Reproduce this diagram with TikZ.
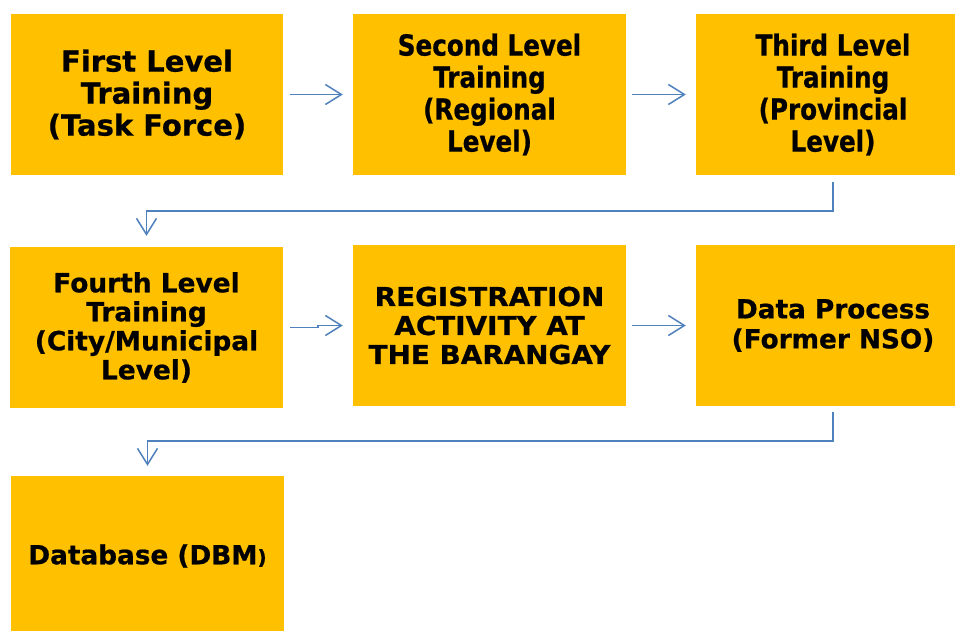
\documentclass[tikz,border=0pt]{standalone}
\usepackage{fontspec}
\setmainfont{DejaVu Sans}[FakeBold=0.7]
\newfontfamily\condfont{DejaVu Sans}[FakeStretch=0.85,FakeBold=0.7]
\newfontfamily\widefont{DejaVu Sans}[FakeStretch=1.07,FakeBold=0.7]
\usetikzlibrary{arrows.meta}
\definecolor{boxfill}{HTML}{FFC000}
\definecolor{arrowblue}{HTML}{4F81BD}
\tikzset{
  stepbox/.style={rectangle, fill=boxfill, draw=none, inner sep=0pt, align=center,
    text=black, minimum height=161pt, font=\bfseries\fontsize{29}{32}\selectfont},
  arr/.style={draw=arrowblue, line width=1.5pt, -{Straight Barb[length=16pt,width=20pt,line width=1.5pt]}},
}
\begin{document}
\begin{tikzpicture}[x=1pt,y=-1pt]
\clip (0,0) rectangle (955,630);
\fill[white] (0,0) rectangle (955,630);
% row 1
\node[stepbox, minimum width=272pt] (b1) at (147,94.5)
  {First Level\\Training\\(Task Force)};
\node[stepbox, minimum width=273pt, font=\condfont\bfseries\fontsize{29}{32}\selectfont] (b2) at (489.5,94.5)
  {Second Level\\Training\\(Regional\\Level)};
\node[stepbox, minimum width=274pt, font=\condfont\bfseries\fontsize{29}{32}\selectfont] (b3) at (833,94.5)
  {Third Level\\Training\\(Provincial\\Level)};
% row 2
\node[stepbox, minimum width=273pt, font=\bfseries\fontsize{26.4}{29}\selectfont] (b4) at (146.5,327.5)
  {Fourth Level\\Training\\(City/Municipal\\Level)};
\node[stepbox, minimum width=273pt, font=\widefont\bfseries\fontsize{26}{29}\selectfont] (b5) at (489.5,325.5)
  {REGISTRATION\\ACTIVITY AT\\THE BARANGAY};
\node[stepbox, minimum width=274pt, font=\bfseries\fontsize{26.3}{30}\selectfont] (b6) at (833,325.5)
  {Data Process\\(Former NSO)};
% row 3
\node[stepbox, minimum width=273pt, minimum height=160pt, font=\bfseries\fontsize{26.3}{30}\selectfont] (b7) at (147.5,556)
  {Database (DBM{\fontsize{20}{22}\selectfont)}};
% connectors
\draw[arr] ([xshift=7pt]b1.east) -- ([xshift=-10pt]b2.west);
\draw[arr] ([xshift=6pt]b2.east) -- ([xshift=-10pt]b3.west);
\draw[arr] ([yshift=-7pt]b3.south) -- ++(0,29) -| ([yshift=11pt]b4.north);
\draw[arr] ([xshift=7pt]b4.east) -- ++(28,0) |- ([xshift=-10pt]b5.west);
\draw[arr] ([xshift=6pt]b5.east) -- ([xshift=-10pt]b6.west);
\draw[arr] ([yshift=-6pt]b6.south) -- ++(0,29) -| ([yshift=10pt]b7.north);
\end{tikzpicture}
\end{document}
